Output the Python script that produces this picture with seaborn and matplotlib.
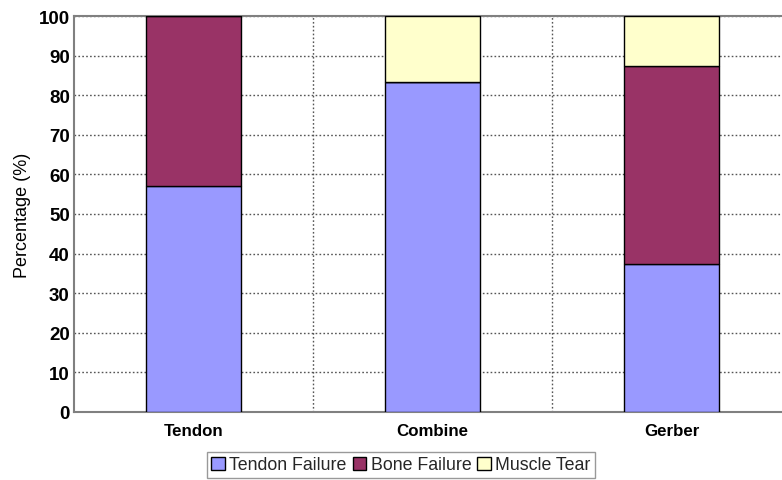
import matplotlib
matplotlib.use("Agg")
import matplotlib.pyplot as plt
import seaborn as sns
import pandas as pd
import numpy as np
from matplotlib.patches import Patch

categories = ["Tendon", "Combine", "Gerber"]
tendon_failure = [57.1, 83.3, 37.5]
bone_failure = [42.9, 0.0, 50.0]
muscle_tear = [0.0, 16.7, 12.5]
series_names = ["Tendon Failure", "Bone Failure", "Muscle Tear"]
colors = ["#9999FF", "#993366", "#FFFFCC"]
yticks = [0, 10, 20, 30, 40, 50, 60, 70, 80, 90, 100]

sns.set_theme(style="white")
plt.rcParams["font.family"] = ["Liberation Sans", "DejaVu Sans"]

fig = plt.figure(figsize=(7.82, 4.81), dpi=100)
W, H = 782, 481
left, right, bottom, top = 74, 791, 413, 17
ax = fig.add_axes([left / W, 1 - bottom / H, (right - left) / W, (bottom - top) / H])

series = [tendon_failure, bone_failure, muscle_tear]
base = np.zeros(len(categories))
for name, vals, col in zip(series_names, series, colors):
    df = pd.DataFrame({"cat": categories, "val": vals})
    sns.barplot(data=df, x="cat", y="val", order=categories, color=col,
                bottom=base.copy(), width=0.4, edgecolor="black", linewidth=1.0,
                saturation=1, ax=ax, zorder=3)
    base = base + np.array(vals)

ax.set_xlim(-0.5, 2.5)
ax.set_ylim(0, 100)
ax.set_yticks(yticks)
ax.set_yticklabels([str(t) for t in yticks], fontweight="bold", fontsize=13.5)
ax.set_xticks(range(len(categories)))
ax.set_xticklabels(categories, fontweight="bold", fontsize=12.2)
ax.tick_params(axis="both", length=0, pad=3, colors="black")
ax.tick_params(axis="x", pad=8)
ax.set_xlabel("")
ax.set_ylabel("Percentage (%)", fontsize=13, color="black")
ax.yaxis.set_label_coords(-(74 - 31) / (791 - 74), 0.5)

grid_style = dict(linestyle=(0, (1.2, 1.6)), color="#555555", linewidth=1.0, zorder=0)
ax.yaxis.grid(True, **grid_style)
ax.xaxis.grid(False)
for xb in [0.5, 1.5]:
    ax.axvline(xb, **grid_style)
ax.set_axisbelow(True)

for s in ["left", "bottom", "top"]:
    ax.spines[s].set_color("#808080")
    ax.spines[s].set_linewidth(1.5)
ax.spines["right"].set_visible(False)

handles = [Patch(facecolor=c, edgecolor="black", linewidth=1.0) for c in colors]
leg = fig.legend(handles, series_names, loc="center", bbox_to_anchor=(401 / W, 1 - 466 / H),
                 ncol=3, fontsize=12.8, frameon=True, fancybox=False, edgecolor="#808080",
                 handlelength=0.75, handleheight=0.75, handletextpad=0.25, columnspacing=0.35,
                 borderpad=0.25, borderaxespad=0)
leg.get_frame().set_linewidth(1.0)

fig.savefig("out.png", dpi=100)
